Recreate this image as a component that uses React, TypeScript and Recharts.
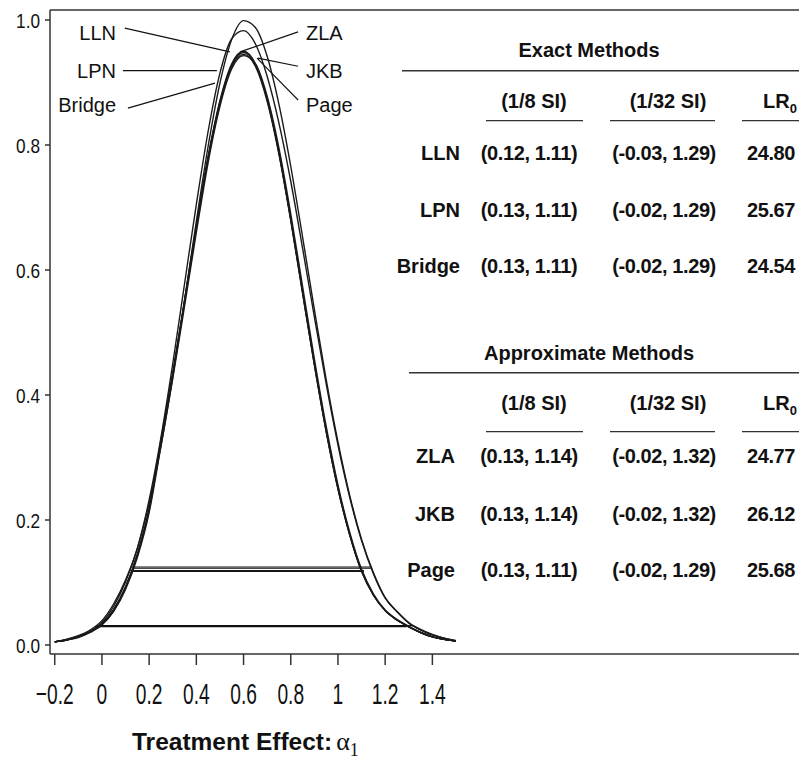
import React from 'react';
import { LineChart, Line, XAxis, YAxis, ReferenceLine, Customized } from 'recharts';

// treatment effect grid (alpha_1)
const alpha = [-0.2, -0.15, -0.1, -0.05, 0, 0.05, 0.1, 0.15, 0.2, 0.25, 0.3, 0.35, 0.4, 0.45, 0.5, 0.55, 0.6,
  0.65, 0.7, 0.75, 0.8, 0.85, 0.9, 0.95, 1.0, 1.05, 1.1, 1.15, 1.2, 1.25, 1.3, 1.35, 1.4, 1.45, 1.5];

// standardized likelihood curves
const lln = [0.005, 0.008, 0.013, 0.021, 0.034, 0.057, 0.093, 0.145, 0.218, 0.328, 0.435, 0.552, 0.671, 0.782, 0.871, 0.930, 0.950,
  0.930, 0.874, 0.788, 0.681, 0.564, 0.449, 0.342, 0.250, 0.176, 0.118, 0.080, 0.055, 0.040, 0.029, 0.020, 0.013, 0.009, 0.006];
const lpn = [0.005, 0.008, 0.013, 0.021, 0.033, 0.056, 0.092, 0.144, 0.217, 0.326, 0.434, 0.550, 0.669, 0.780, 0.869, 0.928, 0.948,
  0.929, 0.873, 0.788, 0.682, 0.566, 0.451, 0.344, 0.252, 0.177, 0.119, 0.080, 0.055, 0.040, 0.029, 0.020, 0.013, 0.009, 0.006];
const bridge = [0.005, 0.008, 0.013, 0.021, 0.033, 0.056, 0.092, 0.144, 0.216, 0.324, 0.432, 0.548, 0.667, 0.778, 0.866, 0.925, 0.945,
  0.926, 0.870, 0.785, 0.679, 0.563, 0.448, 0.342, 0.250, 0.176, 0.118, 0.080, 0.055, 0.040, 0.029, 0.020, 0.013, 0.009, 0.006];
const zla = [0.005, 0.009, 0.014, 0.022, 0.036, 0.062, 0.101, 0.154, 0.227, 0.318, 0.428, 0.551, 0.678, 0.798, 0.899, 0.969, 0.999,
  0.988, 0.942, 0.865, 0.766, 0.653, 0.537, 0.425, 0.325, 0.239, 0.169, 0.116, 0.076, 0.054, 0.036, 0.025, 0.017, 0.011, 0.007];
const jkb = [0.005, 0.009, 0.015, 0.024, 0.039, 0.066, 0.104, 0.155, 0.232, 0.332, 0.450, 0.578, 0.705, 0.822, 0.915, 0.970, 0.983,
  0.962, 0.910, 0.835, 0.742, 0.635, 0.525, 0.418, 0.320, 0.236, 0.167, 0.114, 0.075, 0.053, 0.035, 0.024, 0.016, 0.011, 0.007];
const page = [0.005, 0.008, 0.012, 0.020, 0.032, 0.054, 0.089, 0.140, 0.212, 0.318, 0.426, 0.542, 0.660, 0.772, 0.862, 0.922, 0.943,
  0.930, 0.878, 0.795, 0.690, 0.574, 0.458, 0.350, 0.256, 0.180, 0.121, 0.082, 0.056, 0.041, 0.030, 0.020, 0.013, 0.009, 0.006];

const methods = ['LLN', 'LPN', 'Bridge', 'ZLA', 'JKB', 'Page'];
const series = [lln, lpn, bridge, zla, jkb, page];

// support intervals and LR0 from the table
const si8Low = [0.12, 0.13, 0.13, 0.13, 0.13, 0.13];
const si8High = [1.11, 1.11, 1.11, 1.14, 1.14, 1.11];
const si32Low = [-0.03, -0.02, -0.02, -0.02, -0.02, -0.02];
const si32High = [1.29, 1.29, 1.29, 1.32, 1.32, 1.29];
const lr0 = [24.80, 25.67, 24.54, 24.77, 26.12, 25.68];

const xTicks = [-0.2, 0, 0.2, 0.4, 0.6, 0.8, 1, 1.2, 1.4];
const xTickLabels = ['\u22120.2', '0', '0.2', '0.4', '0.6', '0.8', '1', '1.2', '1.4'];
const yTicks = [0, 0.2, 0.4, 0.6, 0.8, 1.0];

const FONT = '"Liberation Sans", Arial, Helvetica, sans-serif';
const SERIF = '"Liberation Serif", "DejaVu Serif", serif';
const INK = '#111';
const AXIS = '#333';

const chartData = alpha.map((a, i) => {
  const row: Record<string, number> = { alpha: a };
  methods.forEach((m, k) => { row[m] = series[k][i]; });
  return row;
});

const peaks = series.map((s) => Math.max(...s));

function XTick({ x, y, index }: any) {
  return (
    <g transform={`translate(${x},${y})`}>
      <text x={0} y={0} dy={39} textAnchor="middle" transform="scale(0.64,1)"
        style={{ fontFamily: FONT, fontSize: 30, fill: INK }}>
        {xTickLabels[index]}
      </text>
    </g>
  );
}

function YTick({ x, y, payload }: any) {
  return (
    <g transform={`translate(${x - 5},${y})`}>
      <text x={0} y={0} dy={7.5} textAnchor="end" transform="scale(0.82,1)"
        style={{ fontFamily: FONT, fontSize: 21, fill: INK }}>
        {payload.value.toFixed(1)}
      </text>
    </g>
  );
}

const sections = [
  { title: 'Exact Methods', titleY: 57, ruleY: 70.7, ruleX: 402, headY: 108, headRuleY: 120.7, rows: [0, 1, 2], rowY: [160, 217, 273], nameX: 460 },
  { title: 'Approximate Methods', titleY: 360, ruleY: 372.7, ruleX: 409, headY: 410, headRuleY: 431.7, rows: [3, 4, 5], rowY: [463, 521, 577], nameX: 455 },
];

const fmtSI = (lo: number, hi: number) => `(${lo.toFixed(2)}, ${hi.toFixed(2)})`;

function Overlay() {
  const bold = { fontFamily: FONT, fontWeight: 700, fontSize: 20, fill: INK };
  const plain = { fontFamily: FONT, fontSize: 20, fill: INK };
  return (
    <g>
      {/* curve labels */}
      <text x={116} y={40} textAnchor="end" style={plain}>LLN</text>
      <text x={116} y={78} textAnchor="end" style={plain}>LPN</text>
      <text x={116} y={112} textAnchor="end" style={plain}>Bridge</text>
      <text x={306} y={40} style={plain}>ZLA</text>
      <text x={306} y={78} style={plain}>JKB</text>
      <text x={306} y={112} style={plain}>Page</text>

      {/* tables */}
      {sections.map((s) => (
        <g key={s.title}>
          <text x={589} y={s.titleY} textAnchor="middle" style={bold}>{s.title}</text>
          <line x1={s.ruleX} x2={799} y1={s.ruleY} y2={s.ruleY} stroke={AXIS} strokeWidth={1.4} />
          <text x={534} y={s.headY} textAnchor="middle" style={bold}>(1/8 SI)</text>
          <text x={668} y={s.headY} textAnchor="middle" style={bold}>(1/32 SI)</text>
          <text x={797} y={s.headY} textAnchor="end" style={bold}>
            LR<tspan fontSize={13} dy={5}>0</tspan>
          </text>
          <line x1={486} x2={583} y1={s.headRuleY} y2={s.headRuleY} stroke={AXIS} strokeWidth={1.3} />
          <line x1={610} x2={715} y1={s.headRuleY} y2={s.headRuleY} stroke={AXIS} strokeWidth={1.3} />
          <line x1={742} x2={799} y1={s.headRuleY} y2={s.headRuleY} stroke={AXIS} strokeWidth={1.3} />
          {s.rows.map((r, j) => (
            <g key={methods[r]}>
              <text x={s.nameX} y={s.rowY[j]} textAnchor="end" style={bold}>{methods[r]}</text>
              <text x={529} y={s.rowY[j]} textAnchor="middle" style={{ ...bold, letterSpacing: -0.4 }}>
                {fmtSI(si8Low[r], si8High[r])}
              </text>
              <text x={664} y={s.rowY[j]} textAnchor="middle" style={{ ...bold, letterSpacing: -0.4 }}>
                {fmtSI(si32Low[r], si32High[r])}
              </text>
              <text x={795} y={s.rowY[j]} textAnchor="end" style={{ ...bold, letterSpacing: -0.4 }}>
                {lr0[r].toFixed(2)}
              </text>
            </g>
          ))}
        </g>
      ))}

      {/* axis title */}
      <text x={132} y={750} style={{ fontFamily: FONT, fontWeight: 700, fontSize: 24.5, fill: INK }}>
        Treatment Effect:
        <tspan dx={4} fontFamily={SERIF} fontWeight={400} fontSize={26}>α</tspan>
        <tspan dy={6} fontFamily={SERIF} fontWeight={400} fontSize={18}>1</tspan>
      </text>
    </g>
  );
}

export default function App() {
  return (
    <div style={{ position: 'absolute', left: 0, top: 0, width: 799, height: 761, overflow: 'hidden', background: '#fff' }}>
      <LineChart width={840} height={761} data={chartData} margin={{ top: 10, right: 0, bottom: 0, left: 0 }}>
        <XAxis
          type="number"
          dataKey="alpha"
          domain={[-0.22, 3.127]}
          allowDataOverflow
          ticks={xTicks}
          interval={0}
          tickSize={11}
          tickMargin={0}
          height={107}
          stroke={AXIS}
          strokeWidth={1.5}
          tick={<XTick />}
        />
        <YAxis
          type="number"
          domain={[-0.0144, 1.016]}
          allowDataOverflow
          ticks={yTicks}
          interval={0}
          tickSize={5}
          tickMargin={0}
          width={50}
          stroke={AXIS}
          strokeWidth={1.5}
          tick={<YTick />}
        />
        <ReferenceLine y={1.016} stroke={AXIS} strokeWidth={1.5} />

        {/* 1/8 and 1/32 support interval segments */}
        {methods.map((m, k) => (
          <ReferenceLine key={`s8-${m}`} stroke={INK} strokeWidth={1.1}
            segment={[{ x: si8Low[k], y: peaks[k] / 8 }, { x: si8High[k], y: peaks[k] / 8 }]} />
        ))}
        {methods.map((m, k) => (
          <ReferenceLine key={`s32-${m}`} stroke={INK} strokeWidth={1.1}
            segment={[{ x: si32Low[k], y: peaks[k] / 32 }, { x: si32High[k], y: peaks[k] / 32 }]} />
        ))}

        {/* label leader lines */}
        <ReferenceLine stroke={INK} strokeWidth={1.1} segment={[{ x: 0.097, y: 0.987 }, { x: 0.542, y: 0.949 }]} />
        <ReferenceLine stroke={INK} strokeWidth={1.1} segment={[{ x: 0.089, y: 0.919 }, { x: 0.487, y: 0.919 }]} />
        <ReferenceLine stroke={INK} strokeWidth={1.1} segment={[{ x: 0.110, y: 0.859 }, { x: 0.479, y: 0.899 }]} />
        <ReferenceLine stroke={INK} strokeWidth={1.1} segment={[{ x: 0.831, y: 0.981 }, { x: 0.585, y: 0.949 }]} />
        <ReferenceLine stroke={INK} strokeWidth={1.1} segment={[{ x: 0.831, y: 0.926 }, { x: 0.661, y: 0.939 }]} />
        <ReferenceLine stroke={INK} strokeWidth={1.1} segment={[{ x: 0.831, y: 0.872 }, { x: 0.657, y: 0.939 }]} />

        {methods.map((m) => (
          <Line key={m} type="monotone" dataKey={m} stroke="#1a1a1a" strokeWidth={1.4}
            dot={false} activeDot={false} isAnimationActive={false} />
        ))}

        <Customized component={Overlay} />
      </LineChart>
    </div>
  );
}
